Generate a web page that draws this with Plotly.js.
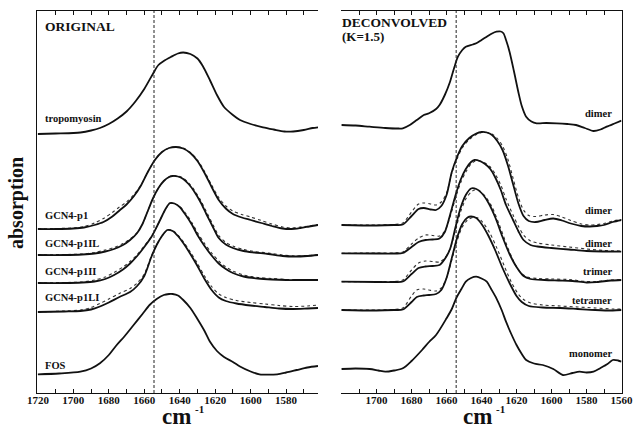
<!DOCTYPE html>
<html>
<head>
<meta charset="utf-8">
<script src="https://cdn.plot.ly/plotly-3.0.1.min.js"></script>
<style>
html,body{margin:0;padding:0;background:#fff;}
#chart{width:633px;height:431px;}
</style>
</head>
<body>
<div id="chart"></div>
<script>
// ---------------- DATA (wavenumber cm-1, absorption in arbitrary offset units) ----------------
// ORIGINAL panel
const tropOrigWn  = [1720,1710,1700,1696,1690,1685,1680,1675,1670,1665,1660,1655,1652,1649,1645,1641,1638,1634,1630,1627,1623,1619,1615,1610,1606,1600,1593,1587,1581,1576,1570,1565,1562];
const tropOrigAbs = [259,259.5,260,260.5,262.5,265,269,274.5,281.5,291.5,304,319.5,328,332,336,339.5,340.5,339,334.5,327,313,298,286,278,273,269,265.7,263.5,261.5,261.5,263,265,265.7];

const p1Wn    = [1720,1710,1700,1694,1688,1683,1678,1674,1670,1666,1662,1658,1654,1650,1646,1642,1638,1634,1630,1626,1622,1618,1614,1610,1605,1600,1594,1588,1582,1577,1572,1567,1562];
const p1Solid = [164,164,164.5,165.5,168,171,176.5,182.5,188.5,196.5,207,221,233,241,245,246,244.5,240,232,220,206,193,184.5,179,175.5,173,170,167,164.5,164,165,166.5,168];
const p1Dot   = [164,164.5,165,166.5,170,174.5,180.5,186,191,198,207.5,221,233,241,245,246,245,240.5,233,221.5,208,195.5,187,182,178.5,176,172.5,169,166,165,166,167,168.5];

const ilWn    = [1720,1705,1695,1688,1682,1677,1672,1668,1664,1661,1658,1655,1652,1649,1646,1644,1641,1638,1635,1632,1628,1625,1621,1618,1614,1610,1604,1598,1590,1582,1575,1568,1562];
const ilSolid = [138,138,138.5,139.5,141.5,144,148,153,160,169,182,195,205,212,216,217,216.5,214,209,202,190,179,165,155,148.5,145,142,140.5,139,137,136.5,137,138];
const ilDot   = [138,138.5,139,140.5,143,145.5,149.5,154,160.5,169,182,195,205,212,216,217,217,215,210,203.5,192,181.5,167.5,157.5,150.5,147,143.5,141.5,140,138,137,137.5,138.5];

const iiWn    = [1720,1705,1695,1688,1682,1677,1672,1668,1664,1660,1656,1653,1650,1648,1645.5,1643,1640,1637,1633,1630,1626,1622,1618,1614,1610,1604,1596,1588,1580,1572,1562];
const iiSolid = [110,110,110.5,111.5,114,118,123.5,129.5,137,146,156,166,177,184,190,189.5,186,179,168,158,147,137.5,129.5,124,120,116.5,114.5,113.5,113,113,113];
const iiDot   = [110,110.5,111,113,116,120.5,126,131.5,138.5,147,156.5,166,177,184,189.5,189.5,186.5,180.5,170,160.5,149.5,140,132,126,122,118,115.5,114.5,113.5,113.5,113.5];

const liWn    = [1720,1705,1696,1690,1685,1680,1674,1668,1664,1660,1656,1653,1650,1647,1644,1641,1638,1634,1630,1626,1622,1618,1614,1608,1600,1592,1584,1576,1568,1562];
const liSolid = [81,81.5,82,83.5,86.5,90.5,96,101,107,117,136,148,157,163,162,157,150,139,127,114,103,95.5,92,89.5,87.5,86,84.5,84,84.5,85];
const liDot   = [81,82,83,85.5,89.5,94,99.5,104.5,110,119,137,148.5,157,163,162.5,158,151.5,141,129.5,117,106.5,99,95.5,92.5,90.5,89,87.5,86.5,87,88];

const fosWn  = [1720,1708,1696,1690,1685,1680,1676,1671,1666,1661,1657,1653,1649,1646,1644,1641,1638,1634,1630,1626,1623,1619,1615,1610,1606,1600,1595,1590,1585,1580,1574,1568,1562];
const fosAbs = [18.7,19.5,21.3,24.5,29.7,38,47,57,68,79,88,94,98,99,99,97.5,93,85,74,62,51.5,42,36,31,26.5,21.5,18.7,18.3,18.7,20.5,23,25.5,27];

// DECONVOLVED panel
const tropDecWn  = [1720,1712,1704,1695,1688,1685,1681,1677,1673,1670,1666,1664,1661,1658,1655.5,1653.5,1651,1649,1645,1643,1640,1637,1634,1631.5,1629,1627.5,1626,1624,1621.5,1619,1617,1614.5,1611.5,1608.5,1603,1597,1591,1586,1581,1576,1572,1568.5,1564,1560];
const tropDecAbs = [268,267.5,266.3,265,264.5,264.7,268,273,278,279.7,284,288,298,311.3,326,336.3,343,346.3,348.5,349.7,353,356.3,359.5,361.3,361.5,359.7,353,341.3,322,301.3,287,276.3,271.5,269.7,270,269.7,269,268,265,262,263.5,266.3,269.5,272.3];

const p1DecWn    = [1720,1700,1690,1685,1680,1676,1673,1669,1666,1663,1660,1657,1654,1651,1647,1643,1640,1637,1634,1631,1628,1625,1622,1619,1616,1613,1609,1604,1599,1594,1589,1583,1578,1574,1570,1565,1560];
const p1DecSolid = [168,167.5,168,168.5,177,184,185,183.5,183,187,198,221,236,247,255,259.5,261,260.5,258,252,243,228,209,190,177,172,171,173,174.5,172.5,169.5,167,166.5,167,168,171,173];
const p1DecDot   = [168,168,168.5,170,181,189,190,189,188,191,200,220,234,245,253.5,258.5,260.5,260.5,259,254.5,247,234,215,196,183,177.5,176.5,178,178.5,176,172.5,169,168,168.5,169.5,172,173.5];

const ilDecWn    = [1720,1700,1690,1685,1680,1676,1672,1668,1664,1661,1658,1655,1652,1649,1646,1644,1641,1638,1635,1632,1629,1626,1622,1619,1616,1612,1608,1600,1590,1580,1570,1560];
const ilDecSolid = [139.7,139.5,139.5,140,146,151,153,153.5,154.5,161,178,197,213,224,231,233,232,229,224,215,203,188,173,162,153,148,146.5,145,143.5,142,141.5,141.3];
const ilDecDot   = [139.7,140,140,141,149,155,158,157.5,157,162,176,194,210,221,229,231.5,232,230,226,218.5,208,194,178,167,158,152,150,148,146,144,142.5,142];

const iiDecWn    = [1720,1700,1690,1685,1680,1676,1672,1668,1664,1661,1658,1655,1652,1649,1646,1643,1640,1636,1632,1628,1624,1620,1616,1612,1604,1596,1588,1580,1574,1566,1560];
const iiDecSolid = [111.3,111,111,111.5,119,125,126.5,127,128,134,144,165,185,198,204.5,204,200,190,175,156,139,126,117,114,113,112.5,112,110.5,111,112.5,113];
const iiDecDotWn = [1720,1700,1690,1685,1680,1676,1672,1668,1664,1661,1658,1655,1652,1649,1646,1644,1641,1638,1634,1630,1626,1622,1618,1614,1608,1600,1590,1580,1574,1566,1560];
const iiDecDot   = [111.3,111.5,111.5,113,123,130,132,131.5,131,135,144,162,181,194,201,203,202,197,186,169,150,133,121,116,114.5,114,113.5,111.5,111.5,113,113.5];

const liDecWn    = [1720,1700,1690,1685,1680,1677,1673,1670,1666,1663,1660,1657,1654,1651,1648,1646,1643,1640,1636,1632,1628,1624,1620,1617,1613,1605,1595,1585,1575,1565,1560];
const liDecSolid = [83,82.5,83,83.5,91,96,97.5,98,99,103,115,135,155,169,175.5,176.5,175,169,157,142,125,110,97,91,87,85.5,85,84,83,82.5,83];
const liDecDotWn = [1720,1700,1690,1685,1680,1677,1673,1670,1666,1663,1660,1657,1654,1651,1648,1645,1642,1639,1635,1631,1627,1623,1619,1616,1612,1605,1595,1585,1575,1565,1560];
const liDecDot   = [83,83,83.5,85,97,103,104,103,102,105,115,133,152,166,173,175.5,175,170,159,144,127,111,99,93.5,90,88,87,86,85,84,84];

const monoWn  = [1720,1712,1704,1699,1695,1690,1685,1680,1674,1670,1666,1660,1657,1654.5,1651.5,1649,1646,1643,1640,1637,1634.5,1631.5,1628.5,1626,1623,1620,1617,1614.5,1610,1605,1599,1593.5,1588,1584,1580,1576,1572,1568,1565,1562,1560];
const monoAbs = [24,24.5,24,22.5,21.3,22.5,24.7,32,43,51,58,74.7,84,94.7,104,111.3,115,116.3,114.5,111.3,104,94.7,83,71.3,59,48,39,33,29.5,28,24,18,20,21.3,20.5,21.3,25,29,33,32.5,31.3];

const referenceWn = 1654.5;
const leftTicks  = [1720,1700,1680,1660,1640,1620,1600,1580];
const rightTicks = [1700,1680,1660,1640,1620,1600,1580,1560];
const leftNames  = ['tropomyosin','GCN4-p1','GCN4-p1IL','GCN4-p1II','GCN4-p1LI','FOS'];
const rightNames = ['dimer','dimer','dimer','trimer','tetramer','monomer'];

// ---------------- STYLE ----------------
const FONT = 'Liberation Serif, Times New Roman, serif';
const INK = '#111';
const H = 431;
const P = py => 1 - py / H;            // pixel row -> paper fraction
const yDom = [P(393), P(11)];

function solid(x, y, xa, ya) {
  return {x, y, xaxis: xa, yaxis: ya, type: 'scatter', mode: 'lines',
    line: {color: INK, width: 1.8, shape: 'spline', smoothing: 0.8},
    hoverinfo: 'skip', showlegend: false};
}
function dotted(x, y, xa, ya) {
  return {x, y, xaxis: xa, yaxis: ya, type: 'scatter', mode: 'lines',
    line: {color: '#333', width: 1.1, dash: 'dot', shape: 'spline', smoothing: 0.8},
    hoverinfo: 'skip', showlegend: false};
}

const traces = [
  solid(tropOrigWn, tropOrigAbs, 'x', 'y'),
  dotted(p1Wn, p1Dot, 'x', 'y'), solid(p1Wn, p1Solid, 'x', 'y'),
  dotted(ilWn, ilDot, 'x', 'y'), solid(ilWn, ilSolid, 'x', 'y'),
  dotted(iiWn, iiDot, 'x', 'y'), solid(iiWn, iiSolid, 'x', 'y'),
  dotted(liWn, liDot, 'x', 'y'), solid(liWn, liSolid, 'x', 'y'),
  solid(fosWn, fosAbs, 'x', 'y'),
  solid(tropDecWn, tropDecAbs, 'x2', 'y2'),
  dotted(p1DecWn, p1DecDot, 'x2', 'y2'), solid(p1DecWn, p1DecSolid, 'x2', 'y2'),
  dotted(ilDecWn, ilDecDot, 'x2', 'y2'), solid(ilDecWn, ilDecSolid, 'x2', 'y2'),
  dotted(iiDecDotWn, iiDecDot, 'x2', 'y2'), solid(iiDecWn, iiDecSolid, 'x2', 'y2'),
  dotted(liDecDotWn, liDecDot, 'x2', 'y2'), solid(liDecWn, liDecSolid, 'x2', 'y2'),
  solid(monoWn, monoAbs, 'x2', 'y2')
];

function xAxis(domain, range, tickvals, anchor) {
  return {domain, range, anchor, tickmode: 'array', tickvals,
    ticktext: tickvals.map(v => '<b>' + v + '</b>'),
    ticks: 'inside', ticklen: 4, tickwidth: 1, tickcolor: INK,
    ticklabelstandoff: -3,
    mirror: 'ticks', showline: true, linewidth: 1, linecolor: INK,
    showgrid: false, zeroline: false,
    tickfont: {family: FONT, size: 11, color: INK},
    minor: {tickmode: 'linear', tick0: 1560, dtick: 10, ticks: 'inside', ticklen: 4, tickwidth: 1, tickcolor: INK, showgrid: false}
  };
}
function yAxis(anchor, side) {
  return {domain: yDom, range: [0, 382], anchor, side, showline: true, linewidth: 1, linecolor: INK,
    ticks: '', showticklabels: false, showgrid: false, zeroline: false, fixedrange: true};
}

const ann = [];
function txt(text, xpx, ypx, size, xanchor, extra) {
  ann.push(Object.assign({text: '<b>' + text + '</b>', xref: 'paper', yref: 'paper', x: xpx / 633, y: P(ypx),
    xanchor, yanchor: 'middle', showarrow: false,
    font: {family: FONT, size, color: INK}}, extra || {}));
}
txt('ORIGINAL', 42.5, 26, 13.5, 'left');
txt('DECONVOLVED', 340.5, 22.5, 13.5, 'left');
txt('(K=1.5)', 340.5, 36, 13, 'left');
const leftY  = [118.5, 215, 243.5, 271.5, 297.5, 365];
const rightY = [113.5, 210, 243.5, 271.5, 300, 353];
leftNames.forEach((n, i) => txt(n, 43, leftY[i], 10.5, 'left'));
rightNames.forEach((n, i) => txt(n, 614, rightY[i], 10.5, 'right'));
txt('absorption', 17, 203, 20, 'center', {textangle: -90});
// x-axis titles "cm-1": base text and its superscript
txt('cm', 193, 431, 23, 'right', {yanchor: 'bottom'});
txt('-1', 192.5, 409, 11, 'left');
txt('cm', 494, 431, 23, 'right', {yanchor: 'bottom'});
txt('-1', 493.5, 409, 11, 'left');

const layout = {
  width: 633, height: 431, margin: {l: 0, r: 0, t: 0, b: 0},
  paper_bgcolor: '#fff', plot_bgcolor: '#fff', showlegend: false,
  xaxis: xAxis([37 / 633, 318 / 633], [1720.5, 1562], leftTicks, 'y'),
  xaxis2: xAxis([340.7 / 633, 621.5 / 633], [1720.5, 1560], rightTicks, 'y2'),
  yaxis: yAxis('x', 'left'),
  yaxis2: yAxis('x2', 'right'),
  shapes: [
    {type: 'line', xref: 'x', yref: 'paper', x0: referenceWn, x1: referenceWn, y0: yDom[0], y1: yDom[1],
     line: {color: '#222', width: 1, dash: '3px,2px'}},
    {type: 'line', xref: 'x2', yref: 'paper', x0: referenceWn, x1: referenceWn, y0: yDom[0], y1: yDom[1],
     line: {color: '#222', width: 1, dash: '3px,2px'}}
  ],
  annotations: ann
};

Plotly.newPlot('chart', traces, layout, {staticPlot: true, displayModeBar: false});
</script>
</body>
</html>
